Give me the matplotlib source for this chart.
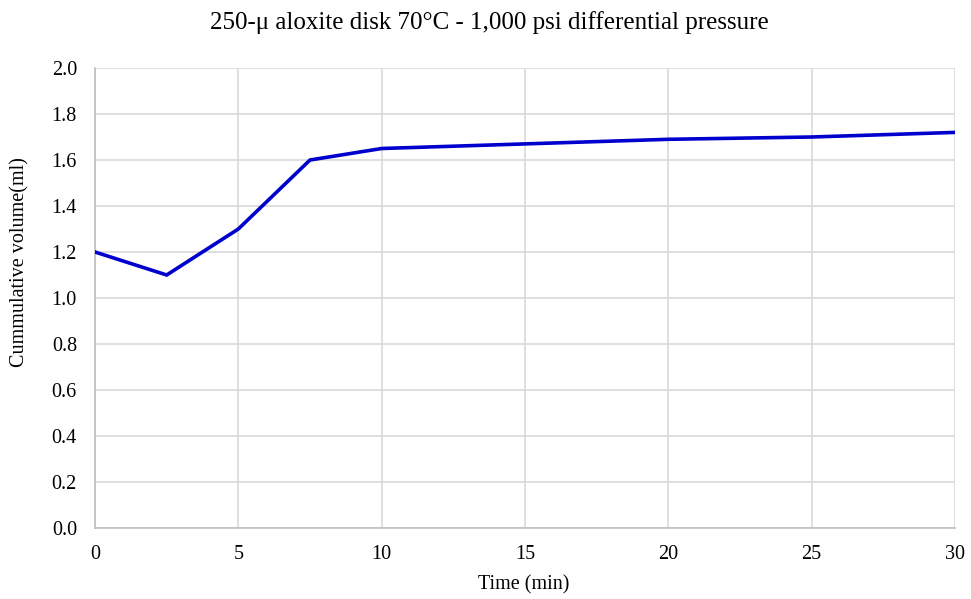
import matplotlib
matplotlib.use('Agg')
import matplotlib.pyplot as plt

# data
timeMin = [0, 2.5, 5, 7.5, 10, 15, 20, 25, 30]
cumVolume = [1.2, 1.1, 1.3, 1.6, 1.65, 1.67, 1.69, 1.70, 1.72]
xTicks = [0, 5, 10, 15, 20, 25, 30]
yTicks = [0.0, 0.2, 0.4, 0.6, 0.8, 1.0, 1.2, 1.4, 1.6, 1.8, 2.0]

plt.rcParams['font.family'] = ['Liberation Serif', 'DejaVu Serif']

W, H = 971, 599
fig = plt.figure(figsize=(W / 100, H / 100), dpi=100)
ax = fig.add_axes([95 / W, 1 - 528 / H, 860 / W, 460 / H])

ax.plot(timeMin, cumVolume, color='#0000CC', linewidth=2.6, solid_joinstyle='miter', zorder=3)

ax.set_xlim(0, 30)
ax.set_ylim(0, 2.0)
ax.set_xticks(xTicks)
ax.set_yticks(yTicks)
ax.set_yticklabels(['%.1f' % v for v in yTicks])
ax.grid(True, color='#D9D9D9', linewidth=1.2)
ax.set_axisbelow(True)
for side in ['top', 'right']:
    ax.spines[side].set_visible(False)
for side in ['left', 'bottom']:
    ax.spines[side].set_color('#BFBFBF')
    ax.spines[side].set_linewidth(1.2)
ax.tick_params(length=0, labelsize=14.5)
ax.tick_params(axis='y', pad=13)
ax.tick_params(axis='x', pad=12)

# axis labels and title placed like the reference
fig.text(524 / W, 1 - 585 / H, 'Time (min)', fontsize=14.5, ha='center', va='center')
fig.text(20 / W, 1 - 262 / H, 'Cummulative volume(ml)', fontsize=14.5, ha='center', va='center', rotation=90)
fig.text(489 / W, 1 - 23 / H, '250-\u03bc aloxite disk 70\u00b0C - 1,000 psi differential pressure',
         fontsize=18, ha='center', va='center')

fig.savefig('out.png', dpi=100)
